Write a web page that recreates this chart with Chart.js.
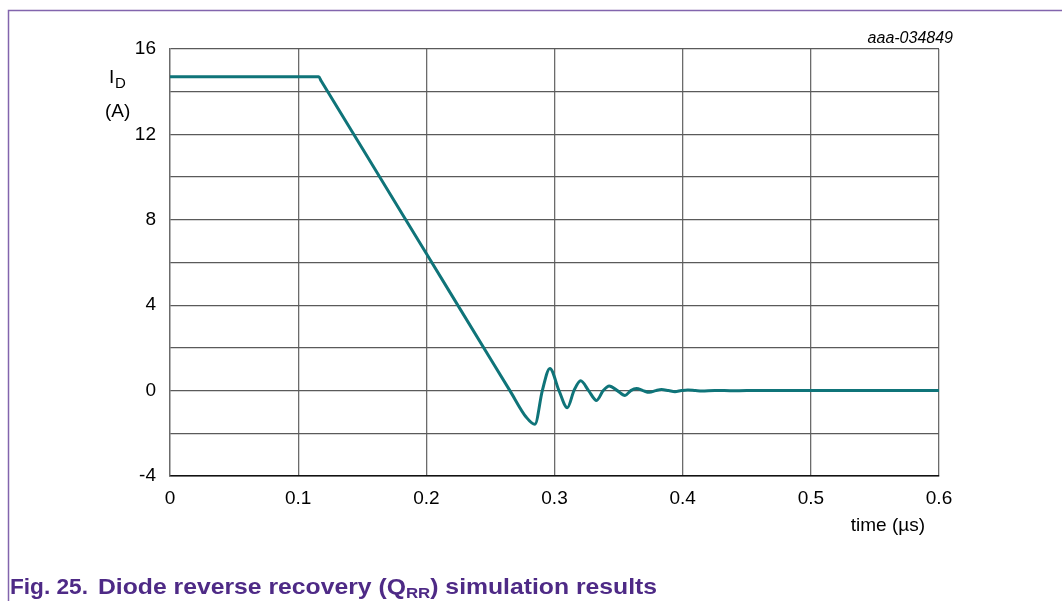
<!DOCTYPE html>
<html>
<head>
<meta charset="utf-8">
<script src="https://cdn.jsdelivr.net/npm/chart.js@4/dist/chart.umd.min.js"></script>
<style>
  html, body { margin: 0; padding: 0; background: #ffffff; }
  #wrap { position: relative; width: 1062px; height: 601px; }
  canvas { display: block; }
</style>
</head>
<body>
<div id="wrap"><canvas id="chart" width="1062" height="601"></canvas></div>
<script>
// Diode current I_D (A) versus time (µs) during reverse recovery
const timeUs = [
  0, 0.116, 0.118, 0.15, 0.2, 0.25, 0.2652, 0.278, 0.2847,
  0.2905, 0.2964, 0.3035, 0.310, 0.3152, 0.3204, 0.3266, 0.3328,
  0.338, 0.3427, 0.349, 0.355, 0.3595, 0.364, 0.369, 0.374,
  0.379, 0.3835, 0.389, 0.394, 0.399, 0.404, 0.41, 0.415,
  0.425, 0.44, 0.46, 0.5, 0.55, 0.6
];
const currentA = [
  14.7, 14.7, 14.5, 11.35, 6.42, 1.49, 0, -1.25, -1.58,
  0, 1.04, 0, -0.8, 0, 0.46, 0, -0.46,
  0, 0.22, 0, -0.23, 0, 0.1, 0, -0.08,
  0, 0.05, 0, -0.05, 0, 0.03, 0, -0.02,
  0.01, -0.01, 0.01, 0, 0, 0
];
const xTickLabels = ['0', '0.1', '0.2', '0.3', '0.4', '0.5', '0.6'];
const yTickLabels = [16, 12, 8, 4, 0, -4];

const FONT = '"Liberation Sans", Arial, Helvetica, sans-serif';
const PURPLE_LINE = '#8265ad';
const PURPLE_TEXT = '#4e2a86';

const points = timeUs.map((t, i) => ({ x: t, y: currentA[i] }));

// draws a run of text pieces, scaled horizontally to a given width
function fitText(ctx, pieces, x, y, width) {
  let natural = 0;
  pieces.forEach(p => { ctx.font = p.font; natural += ctx.measureText(p.text).width; });
  const sx = width / natural;
  ctx.save();
  ctx.translate(x, y);
  ctx.scale(sx, 1);
  let cx = 0;
  pieces.forEach(p => {
    ctx.font = p.font;
    ctx.fillText(p.text, cx, p.dy || 0);
    cx += ctx.measureText(p.text).width;
  });
  ctx.restore();
}

const decorations = {
  id: 'decorations',
  afterDraw(chart) {
    const ctx = chart.ctx;
    ctx.save();

    // frame around the figure (top and left edges)
    ctx.strokeStyle = PURPLE_LINE;
    ctx.lineWidth = 1.5;
    ctx.beginPath();
    ctx.moveTo(1062, 10.5);
    ctx.lineTo(8.5, 10.5);
    ctx.lineTo(8.5, 601);
    ctx.stroke();

    // drawing number
    ctx.fillStyle = '#000';
    ctx.font = 'italic 16px ' + FONT;
    ctx.textAlign = 'right';
    ctx.textBaseline = 'alphabetic';
    ctx.fillText('aaa-034849', 953, 43);

    // y-axis title: I_D (A)
    ctx.font = '19px ' + FONT;
    ctx.textAlign = 'left';
    ctx.fillText('I', 109, 83);
    ctx.font = '15px ' + FONT;
    ctx.fillText('D', 115, 88);
    ctx.font = '19px ' + FONT;
    ctx.fillText('(A)', 105, 117);

    // x-axis title
    ctx.textAlign = 'right';
    ctx.fillText('time (µs)', 925, 531);

    // caption
    ctx.fillStyle = PURPLE_TEXT;
    ctx.textAlign = 'left';
    const big = 'bold 22px ' + FONT;
    const small = 'bold 15px ' + FONT;
    fitText(ctx, [{ text: 'Fig. 25.', font: big }], 10, 594, 78);
    fitText(ctx, [
      { text: 'Diode reverse recovery (Q', font: big },
      { text: 'RR', font: small, dy: 4 },
      { text: ') simulation results', font: big }
    ], 98, 594, 559);

    ctx.restore();
  }
};

new Chart(document.getElementById('chart'), {
  type: 'line',
  data: {
    datasets: [{
      data: points,
      borderColor: '#0f7479',
      borderWidth: 3,
      pointRadius: 0,
      fill: false,
      cubicInterpolationMode: 'monotone'
    }]
  },
  options: {
    responsive: false,
    animation: false,
    devicePixelRatio: 1,
    layout: { padding: { left: 0, top: 49, right: 123, bottom: 0 } },
    plugins: { legend: { display: false }, tooltip: { enabled: false } },
    scales: {
      x: {
        type: 'linear',
        min: 0,
        max: 0.6,
        afterFit(scale) { scale.height = 125; },
        afterBuildTicks(scale) {
          scale.ticks = xTickLabels.map(v => ({ value: parseFloat(v) }));
        },
        ticks: {
          padding: 11,
          color: '#000',
          font: { family: FONT, size: 19 },
          maxRotation: 0,
          autoSkip: false,
          callback: (v) => xTickLabels.find(l => Math.abs(parseFloat(l) - v) < 1e-9) || ''
        },
        grid: { color: '#6b6b6b', lineWidth: 1.3, drawTicks: false },
        border: { color: '#111', width: 1.5 }
      },
      y: {
        type: 'linear',
        min: -4,
        max: 16,
        afterFit(scale) { scale.width = 170; },
        ticks: {
          stepSize: 2,
          padding: 14,
          color: '#000',
          font: { family: FONT, size: 19 },
          autoSkip: false,
          callback: (v) => yTickLabels.includes(v) ? String(v) : ''
        },
        grid: { color: '#5a5a5a', lineWidth: 1.3, drawTicks: false },
        border: { color: '#6b6b6b', width: 1.3 }
      }
    }
  },
  plugins: [decorations]
});
</script>
</body>
</html>
